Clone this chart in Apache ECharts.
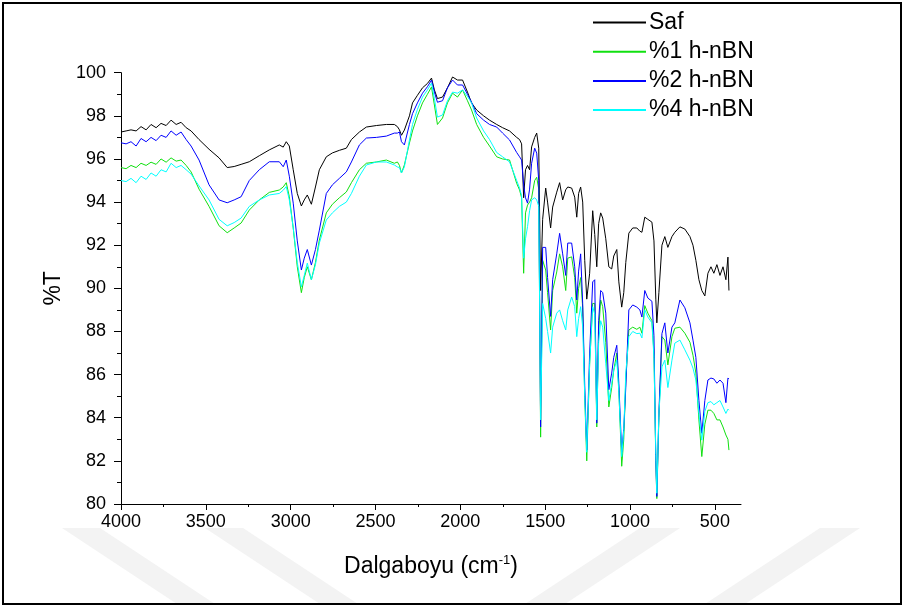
<!DOCTYPE html>
<html><head><meta charset="utf-8">
<script src="https://cdn.jsdelivr.net/npm/echarts@6/dist/echarts.min.js"></script>
<style>html,body{margin:0;padding:0;background:#fff}#c{width:905px;height:608px}</style>
</head><body><div id="c"></div>
<script>
// Wavenumber (cm-1)
const wavenumbers = [4000,3970,3941,3911,3882,3852,3823,3793,3764,3734,3705,3675,3646,3616,3587,3540,3481,3422,3374,3333,3292,3244,3185,3126,3067,3044,3026,3008,2985,2961,2937,2920,2902,2878,2854,2831,2790,2754,2713,2672,2642,2595,2554,2495,2436,2389,2371,2359,2347,2330,2300,2282,2253,2223,2194,2170,2153,2135,2105,2076,2046,2017,1987,1958,1934,1904,1863,1828,1786,1751,1710,1668,1651,1639,1627,1616,1604,1592,1580,1562,1550,1538,1527,1515,1497,1486,1468,1456,1432,1415,1397,1379,1367,1344,1326,1314,1303,1291,1279,1267,1255,1238,1220,1208,1196,1185,1173,1161,1143,1125,1108,1096,1078,1066,1049,1037,1025,1007,984,960,942,930,913,895,871,859,848,842,830,812,795,777,753,736,706,677,647,629,612,594,577,559,541,523,506,488,470,452,435,423,417];
// %T values per sample
const saf = [97.25,97.3,97.35,97.3,97.5,97.35,97.6,97.45,97.65,97.55,97.8,97.6,97.7,97.45,97.3,96.9,96.45,96.05,95.6,95.65,95.75,95.87,96.15,96.42,96.65,96.55,96.8,96.6,95.5,94.4,93.82,94.1,94.33,93.9,94.7,95.5,96.1,96.28,96.4,96.5,96.9,97.25,97.48,97.55,97.6,97.6,97.5,97.35,97.1,97.34,98.0,98.6,98.95,99.3,99.5,99.75,99.2,98.8,98.87,99.3,99.8,99.66,99.66,99.1,98.6,98.27,98.0,97.8,97.6,97.45,97.3,97.0,96.9,96.7,94.2,95.5,95.7,95.5,96.56,97.0,97.2,96.5,89.9,93.2,94.65,94.0,92.8,93.77,94.46,94.9,94.1,94.57,94.7,94.65,94.23,93.3,94.4,94.7,94.0,91.3,89.5,90.7,93.6,92.5,91.0,93.0,93.5,93.26,92.3,91.0,90.9,91.5,91.8,90.3,89.13,89.8,91.2,92.56,92.8,92.8,92.65,92.6,93.3,93.2,93.07,92.2,89.5,88.4,89.8,92.0,92.4,91.9,92.4,92.6,92.85,92.75,92.4,92.0,91.3,90.4,89.9,89.65,90.7,91.0,90.7,91.1,90.6,91.0,90.4,91.45,89.9];
const h1 = [95.6,95.55,95.7,95.6,95.8,95.7,95.85,95.75,96.0,95.85,96.05,95.9,95.95,95.7,95.4,94.6,93.8,92.9,92.58,92.8,93.03,93.63,94.1,94.45,94.56,94.7,94.9,94.25,92.8,91.0,89.8,90.5,91.0,90.4,91.2,92.24,93.5,93.9,94.2,94.47,94.9,95.5,95.8,95.86,95.95,95.8,95.86,95.7,95.35,95.72,96.74,97.3,98.0,98.6,99.0,99.34,98.5,97.6,97.9,98.6,99.05,98.87,99.2,98.7,98.27,97.6,97.0,96.6,96.1,96.0,95.95,94.87,94.56,94.2,90.7,93.5,93.86,94.0,94.2,95.0,95.15,94.6,83.1,91.3,90.85,89.8,88.07,89.9,90.76,91.6,91.0,89.9,91.4,91.46,90.5,88.85,90.0,90.5,89.1,85.0,82.0,86.5,89.3,89.3,83.57,88.0,89.46,89.15,87.5,84.5,85.4,86.2,87.0,85.3,81.75,83.0,85.75,88.07,88.2,88.1,88.2,87.92,89.2,88.85,88.5,87.0,82.0,80.25,84.0,87.76,87.6,86.45,87.76,88.15,88.2,87.92,87.5,86.9,86.07,83.9,82.2,83.7,84.35,84.35,84.2,83.9,83.9,83.57,83.2,83.0,82.5];
const h2 = [96.75,96.7,96.8,96.6,96.95,96.8,97.0,96.85,97.1,97.0,97.3,97.1,97.25,96.9,96.6,95.95,94.8,94.1,93.97,94.1,94.25,95.0,95.5,95.87,95.87,95.64,95.95,95.2,93.95,92.2,90.85,91.4,91.8,91.08,91.8,92.7,94.4,94.8,95.1,95.4,95.86,96.65,96.97,97.0,97.06,97.2,97.2,97.25,96.8,96.65,97.6,98.1,98.6,99.05,99.35,99.66,99.1,98.63,98.7,99.3,99.66,99.43,99.43,99.0,98.63,98.1,97.8,97.6,97.48,97.2,96.88,96.3,96.1,95.95,94.8,94.2,93.95,94.6,95.8,96.5,96.27,95.0,83.57,91.9,91.9,90.5,88.7,90.4,91.6,92.55,91.6,90.6,92.1,92.1,91.0,89.46,90.8,91.6,89.3,85.5,82.5,87.0,90.3,90.4,83.75,88.5,89.9,89.8,88.85,85.3,86.07,86.8,87.36,85.6,82.4,83.5,85.4,89.0,89.23,89.13,89.0,88.67,89.9,89.55,89.4,87.8,82.0,80.35,84.2,87.9,88.4,87.0,88.2,88.4,89.46,89.1,88.4,87.6,86.8,84.8,83.28,84.8,85.75,85.84,85.8,85.6,85.75,85.6,84.7,85.84,85.8];
const h4 = [95.0,94.95,95.1,94.9,95.2,95.05,95.35,95.2,95.5,95.4,95.8,95.6,95.7,95.5,95.3,94.75,94.1,93.2,92.9,93.05,93.26,93.8,94.1,94.33,94.4,94.55,94.72,94.1,92.8,91.2,90.07,90.6,91.17,90.4,91.1,92.1,93.17,93.5,93.8,94.0,94.4,95.2,95.72,95.86,95.86,95.72,95.63,95.6,95.35,95.63,96.88,97.6,98.3,98.87,99.2,99.52,98.8,97.94,98.04,98.7,99.1,99.05,99.2,98.9,98.6,97.9,97.3,96.9,96.3,96.1,95.86,95.0,94.65,94.3,91.4,92.3,92.86,93.6,94.1,94.2,94.1,93.8,83.9,89.3,88.6,88.0,87.0,88.2,88.85,89.0,88.5,88.07,89.0,89.6,89.15,87.76,88.6,89.15,88.2,85.0,82.4,86.5,89.15,88.8,83.9,87.5,88.5,88.2,86.5,84.8,85.6,86.2,86.67,85.2,82.2,83.4,86.07,87.76,88.0,87.9,87.92,87.7,89.0,88.67,88.4,86.8,82.3,80.5,84.2,86.36,86.67,85.4,86.67,87.46,87.6,87.15,86.67,86.3,85.75,84.2,82.96,84.3,84.7,84.75,84.6,84.7,84.8,84.5,84.2,84.4,84.35];
const seriesNames = ['Saf','%1 h-nBN','%2 h-nBN','%4 h-nBN'];
const xTicks = [4000,3500,3000,2500,2000,1500,1000,500];
const xMinorTicks = [3750,3250,2750,2250,1750,1250,750];

const colors = ['#000000','#10e010','#0000ff','#00ffff'];
const allData = [saf,h1,h2,h4];
const chart = echarts.init(document.getElementById('c'), null, {renderer:'canvas'});
const font = 'Liberation Sans, Arial, sans-serif';
const wm = '#f3f3f3';
chart.setOption({
  animation:false,
  backgroundColor:'#fff',
  textStyle:{fontFamily:font},
  grid:{left:121,right:164,top:72.7,bottom:104,containLabel:false},
  legend:{
    data:seriesNames, orient:'vertical', left:588, top:6, itemWidth:53, itemHeight:2, itemGap:6.2,
    textStyle:{fontSize:23,color:'#000',fontFamily:font,padding:[0,0,0,-2]},
    icon:'rect'
  },
  xAxis:[{
    type:'value', min:346, max:4000, inverse:true,
    axisLine:{show:true,lineStyle:{color:'#000',width:1}},
    axisTick:{show:true,length:6,inside:false,customValues:xTicks,lineStyle:{color:'#000'}},
    axisLabel:{show:true,customValues:xTicks,fontSize:18,color:'#000',margin:9,fontFamily:font,formatter:v=>String(v)},
    splitLine:{show:false},
    name:'{a|Dalgaboyu (cm}{s|-1}{a|)}', nameLocation:'middle', nameGap:50,
    nameTextStyle:{rich:{a:{fontSize:23,color:'#000',fontFamily:font},s:{fontSize:13,color:'#000',fontFamily:font,verticalAlign:'top',padding:[0,0,12,0]}}}
  },{
    type:'value', min:346, max:4000, inverse:true, position:'bottom', offset:0,
    axisLine:{show:false},
    axisTick:{show:true,length:3,inside:false,customValues:xMinorTicks,lineStyle:{color:'#000'}},
    axisLabel:{show:false},
    splitLine:{show:false}
  }],
  yAxis:{
    type:'value', min:80, max:100, interval:2,
    axisLine:{show:true,lineStyle:{color:'#000',width:1}},
    axisTick:{show:true,length:7,lineStyle:{color:'#000'}},
    minorTick:{show:true,splitNumber:2,length:4,lineStyle:{color:'#000'}},
    axisLabel:{fontSize:18,color:'#000',margin:15,fontFamily:font},
    splitLine:{show:false},
    name:'%T', nameLocation:'middle', nameGap:54,
    nameTextStyle:{fontSize:23,color:'#000',fontFamily:font}
  },
  series: seriesNames.map((n,i)=>({
    name:n, type:'line', xAxisIndex:0, symbol:'none', smooth:false,
    lineStyle:{color:colors[i],width:1}, itemStyle:{color:colors[i]},
    data: wavenumbers.map((w,k)=>[w,allData[i][k]])
  })),
  graphic:[
    {type:'polygon',z:-10,shape:{points:[[62,528],[100,528],[215,604],[177,604]]},style:{fill:wm}},
    {type:'polygon',z:-10,shape:{points:[[205,528],[243,528],[358,604],[320,604]]},style:{fill:wm}},
    {type:'polygon',z:-10,shape:{points:[[640,528],[680,528],[565,604],[525,604]]},style:{fill:wm}},
    {type:'polygon',z:-10,shape:{points:[[820,528],[860,528],[745,604],[705,604]]},style:{fill:wm}},
    {type:'rect',shape:{x:3,y:3,width:898,height:601},style:{fill:'none',stroke:'#000',lineWidth:2},z:100}
  ]
});
</script></body></html>
